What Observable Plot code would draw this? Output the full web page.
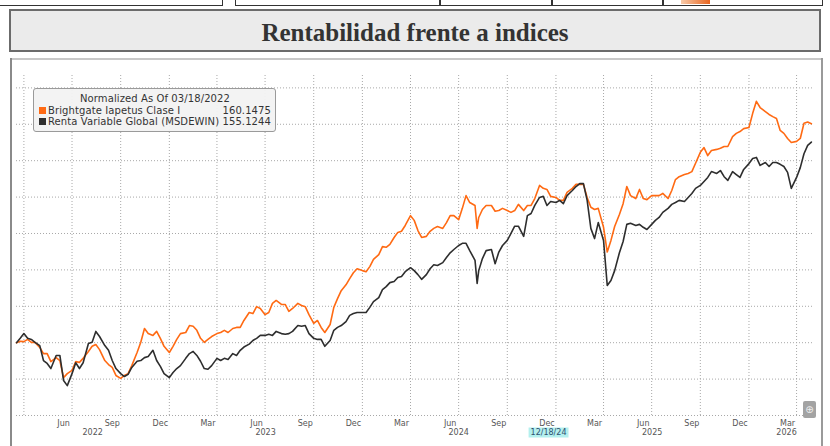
<!DOCTYPE html>
<html><head><meta charset="utf-8">
<script src="https://cdn.jsdelivr.net/npm/d3@7"></script>
<script src="https://cdn.jsdelivr.net/npm/@observablehq/plot@0.6"></script>
<style>
html,body{margin:0;padding:0;background:#fff;width:830px;height:446px;overflow:hidden;}
body{position:relative;}
.abs{position:absolute;box-sizing:border-box;}
#topL{left:-5px;top:-10px;width:228px;height:16px;border:1.5px solid #333;}
#topR{left:235px;top:-10px;width:588px;height:16px;border:1.5px solid #333;}
.vd{top:-10px;height:16px;width:1.5px;background:#333;}
#orangeBit{left:681px;top:0;width:29px;height:4px;background:linear-gradient(90deg,#f7c9a8,#e8651f);}
#titleBox{left:9px;top:9px;width:812px;height:43px;border:2px solid #6b6b6b;background:#ebebeb;
  display:flex;align-items:center;justify-content:center;font-family:"Liberation Serif",serif;font-weight:bold;font-size:25px;color:#333;padding-top:4px;}
#frameTop{left:11px;top:58px;width:812px;height:2px;background:#c8c8c8;}
#frameLeft{left:10px;top:58px;width:2px;height:400px;background:#8a8a8a;}
#frameRight{left:821px;top:58px;width:2px;height:400px;background:#9a9a9a;}
#chart{position:absolute;left:0;top:0;}
#legend{left:33px;top:88px;width:243px;height:44px;border:1px solid #9a9a9a;border-radius:3px;background:rgba(242,242,242,0.95);
  font-family:"DejaVu Sans",Verdana,sans-serif;font-size:10px;color:#333;padding:4px 4px 0 5px;line-height:11.6px;letter-spacing:0.1px;}
#legend .lt{text-align:center;}
#legend .row{display:flex;align-items:center;}
#legend .sw{width:7px;height:7px;margin-right:2px;flex:none;}
#legend .nm{flex:1;white-space:nowrap;}
#legend .val{white-space:nowrap;}
#btn{left:803px;top:401px;width:13px;height:17px;background:#a3a3a3;border-radius:2px;color:#eee;font:10px "DejaVu Sans";text-align:center;line-height:17px;}
</style></head><body>
<div class="abs" id="topL"></div>
<div class="abs" id="topR"></div>
<div class="abs vd" style="left:439px"></div>
<div class="abs vd" style="left:551px"></div>
<div class="abs vd" style="left:662px"></div>
<div class="abs" id="orangeBit"></div>
<div class="abs" id="titleBox">Rentabilidad frente a indices</div>
<div class="abs" id="frameTop"></div>
<div class="abs" id="frameLeft"></div>
<div class="abs" id="frameRight"></div>
<div id="chart"></div>
<div class="abs" id="legend"></div>
<div class="abs" id="btn">&#8853;</div>
<script>
const legendTitle = "Normalized As Of 03/18/2022";
const seriesNames = ["Brightgate Iapetus Clase I", "Renta Variable Global (MSDEWIN)"];
const lastValues = ["160.1475", "155.1244"];
const seriesColors = ["#ff6a13", "#2e2e2e"];

const dates = [
"2022-03-18","2022-03-25",
"2022-04-01","2022-04-08","2022-04-15","2022-04-22",
"2022-05-01","2022-05-08","2022-05-15","2022-05-22",
"2022-06-01","2022-06-08","2022-06-15","2022-06-22",
"2022-07-01","2022-07-08","2022-07-15","2022-07-22",
"2022-08-01","2022-08-08","2022-08-15","2022-08-22",
"2022-09-01","2022-09-08","2022-09-15","2022-09-22",
"2022-10-01","2022-10-08","2022-10-15","2022-10-22",
"2022-11-01","2022-11-08","2022-11-15","2022-11-22",
"2022-12-01","2022-12-08","2022-12-15","2022-12-22",
"2023-01-01","2023-01-08","2023-01-15","2023-01-22",
"2023-02-01","2023-02-08","2023-02-15","2023-02-22",
"2023-03-01","2023-03-08","2023-03-15","2023-03-22",
"2023-04-01","2023-04-08","2023-04-15","2023-04-22",
"2023-05-01","2023-05-08","2023-05-15","2023-05-22",
"2023-06-01","2023-06-08","2023-06-15","2023-06-22",
"2023-07-01","2023-07-08","2023-07-15","2023-07-22",
"2023-08-01","2023-08-08","2023-08-15","2023-08-22",
"2023-09-01","2023-09-08","2023-09-15","2023-09-22",
"2023-10-01","2023-10-08","2023-10-15","2023-10-22",
"2023-11-01","2023-11-08","2023-11-15","2023-11-22",
"2023-12-01","2023-12-08","2023-12-15","2023-12-22",
"2024-01-01","2024-01-08","2024-01-15","2024-01-22",
"2024-02-01","2024-02-08","2024-02-15","2024-02-22",
"2024-03-01","2024-03-08","2024-03-15","2024-03-22",
"2024-04-01","2024-04-08","2024-04-15","2024-04-22",
"2024-05-01","2024-05-08","2024-05-15","2024-05-22",
"2024-06-01","2024-06-08","2024-06-15","2024-06-22",
"2024-07-01","2024-07-08","2024-07-15","2024-07-22",
"2024-08-01","2024-08-05","2024-08-08","2024-08-15","2024-08-22",
"2024-09-01","2024-09-08","2024-09-15","2024-09-22",
"2024-10-01","2024-10-08","2024-10-15","2024-10-22",
"2024-11-01","2024-11-08","2024-11-15","2024-11-22",
"2024-12-01","2024-12-08","2024-12-15","2024-12-22",
"2025-01-01","2025-01-08","2025-01-15","2025-01-22",
"2025-02-01","2025-02-08","2025-02-15","2025-02-22",
"2025-03-01","2025-03-08","2025-03-15","2025-03-22",
"2025-04-01","2025-04-08","2025-04-15","2025-04-22",
"2025-05-01","2025-05-08","2025-05-15","2025-05-22",
"2025-06-01","2025-06-08","2025-06-15","2025-06-22",
"2025-07-01","2025-07-08","2025-07-15","2025-07-22",
"2025-08-01","2025-08-08","2025-08-15","2025-08-22",
"2025-09-01","2025-09-08","2025-09-15","2025-09-22",
"2025-10-01","2025-10-08","2025-10-15","2025-10-22",
"2025-11-01","2025-11-08","2025-11-15","2025-11-22",
"2025-12-01","2025-12-08","2025-12-15","2025-12-22",
"2026-01-01","2026-01-08","2026-01-15","2026-01-22",
"2026-02-01","2026-02-08","2026-02-15","2026-02-22",
"2026-03-01","2026-03-08","2026-03-15","2026-03-22",
"2026-04-01","2026-04-08","2026-04-15","2026-04-22","2026-04-29"
];

const fundValues = [
100.0,100.4,
100.3,100.9,100.1,100.1,
98.7,97.0,97.0,94.8,
95.9,95.1,90.4,91.5,
92.4,94.8,94.6,95.7,
97.6,99.0,99.5,98.1,
95.1,94.0,93.2,91.0,
90.2,91.0,91.5,93.7,
97.3,100.1,103.9,102.5,
102.0,103.1,101.2,99.0,
97.3,99.0,100.9,102.5,
102.8,104.7,104.5,103.4,
101.2,100.1,100.9,101.7,
102.5,102.8,103.4,102.8,
103.9,104.2,104.2,106.1,
108.3,108.0,109.9,109.4,
107.7,108.3,110.8,111.6,
110.5,110.5,108.6,109.4,
110.8,110.2,109.9,107.7,
105.3,106.1,104.2,102.8,
105.0,109.7,112.1,114.3,
115.9,117.6,119.2,120.3,
119.8,119.5,120.9,122.9,
124.2,126.4,126.2,127.0,
128.9,130.3,130.6,132.2,
134.9,133.6,130.8,128.9,
129.2,130.6,131.4,131.9,
131.4,133.0,134.9,134.9,
133.8,136.9,140.4,138.5,
137.7,131.4,134.4,136.6,137.7,
137.7,136.1,136.3,136.9,
136.3,135.8,136.3,138.0,
136.3,137.7,137.7,139.6,
143.2,142.4,142.1,140.2,
139.9,139.1,139.1,141.3,
142.4,143.5,143.5,143.5,
139.9,137.2,136.6,136.9,
131.7,124.9,128.1,131.9,
135.2,138.2,142.9,140.4,
139.6,142.1,139.6,139.3,
140.4,140.4,140.4,141.0,
139.6,141.8,144.8,145.6,
146.2,146.5,147.0,149.3,
152.3,153.6,151.4,152.8,
153.1,153.4,153.9,153.9,
156.6,157.5,158.0,158.8,
159.1,163.0,166.3,164.6,
163.5,162.7,162.1,161.6,
158.3,157.5,156.1,155.0,
155.3,156.1,160.3,160.6,160.15
];

const indexValues = [
100.0,101.2,
102.5,101.2,100.9,100.1,
99.2,95.1,94.3,92.9,
96.5,96.5,89.6,88.2,
91.5,94.5,92.9,94.5,
99.8,100.1,103.1,101.7,
99.2,97.9,95.1,92.9,
91.5,90.7,91.3,93.2,
94.9,95.1,95.9,96.2,
97.9,95.1,93.5,91.5,
90.4,91.8,92.9,93.7,
95.7,97.0,97.6,96.5,
94.9,92.9,92.7,93.7,
95.7,95.1,95.7,95.4,
97.0,96.5,97.9,98.8,
99.6,100.6,101.2,102.0,
102.0,102.3,102.0,103.1,
102.5,102.3,102.5,103.1,
104.7,104.5,104.7,102.5,
101.2,100.9,100.9,99.0,
100.6,103.4,104.2,104.7,
105.8,107.5,108.0,108.3,
108.3,108.3,109.7,111.3,
112.4,114.6,115.4,116.5,
116.8,117.9,118.2,119.5,
120.6,119.8,118.7,117.4,
118.7,120.3,121.4,121.2,
122.0,123.4,124.7,125.6,
126.7,127.3,127.3,125.3,
122.6,116.3,119.8,123.1,125.3,
125.6,121.7,124.9,126.7,
128.1,130.0,132.0,132.0,
129.2,134.9,135.5,137.7,
139.9,140.2,137.7,138.8,
138.5,139.1,138.2,140.4,
141.8,142.9,143.7,143.7,
139.1,131.4,128.6,133.0,
128.1,115.7,117.1,119.8,
124.7,127.8,132.5,132.8,
132.2,132.5,131.7,131.1,
132.5,133.6,134.4,135.8,
136.9,138.0,138.5,139.1,
138.8,139.9,141.0,142.4,
143.2,144.3,145.4,147.0,
146.5,147.3,145.6,144.6,
147.0,146.2,145.4,147.6,
149.2,150.6,150.9,148.7,
149.5,148.4,149.5,149.5,
149.0,148.4,146.8,142.4,
145.4,148.1,151.9,154.2,155.12
];

const gridDates = ["2022-04-01","2022-07-01","2022-10-01","2023-01-01","2023-04-01","2023-07-01","2023-10-01",
"2024-01-01","2024-04-01","2024-07-01","2024-10-01","2025-01-01","2025-04-01","2025-07-01","2025-10-01","2026-01-01","2026-04-01"];
const yGridValues = [90,100,110,120,130,140,150,160,170];
const monthTickDates = ["2022-06-15","2022-09-15","2022-12-15","2023-03-15","2023-06-15","2023-09-15","2023-12-15",
"2024-03-15","2024-06-15","2024-09-15","2024-12-15","2025-03-15","2025-06-15","2025-09-15","2025-12-15","2026-03-15"];
const monthTickLabels = ["Jun","Sep","Dec","Mar","Jun","Sep","Dec","Mar","Jun","Sep","Dec","Mar","Jun","Sep","Dec","Mar"];
const yearTickDates = ["2022-08-09","2023-07-02","2024-07-01","2025-07-02","2026-03-13"];
const yearTickLabels = ["2022","2023","2024","2025","2026"];
const markerDate = "2024-12-18";
const markerLabel = "12/18/24";

const P = s => new Date(s);
const fundRows = dates.map((d, i) => ({date: P(d), value: fundValues[i]}));
const indexRows = dates.map((d, i) => ({date: P(d), value: indexValues[i]}));
const monthTicks = monthTickDates.map((d, i) => ({date: P(d), label: monthTickLabels[i]}));
const yearTicks = yearTickDates.map((d, i) => ({date: P(d), label: yearTickLabels[i]}));

const gridStyle = {stroke: "#a8a8a8", strokeOpacity: 1, strokeWidth: 1, strokeDasharray: "1,2"};

const chart = Plot.plot({
  width: 830, height: 446,
  marginLeft: 16, marginRight: 17, marginTop: 75, marginBottom: 31,
  style: {fontFamily: "DejaVu Sans, Verdana, sans-serif", fontSize: "8px", background: "transparent", overflow: "visible"},
  x: {type: "utc", domain: [P("2022-03-18"), P("2026-05-03")], axis: null},
  y: {domain: [80, 173.4], axis: null},
  marks: [
    Plot.gridX(gridDates.map(P), gridStyle),
    Plot.gridY(yGridValues, gridStyle),
    Plot.ruleY([80], gridStyle),
    Plot.line(fundRows, {x: "date", y: "value", stroke: seriesColors[0], strokeWidth: 1.6}),
    Plot.line(indexRows, {x: "date", y: "value", stroke: seriesColors[1], strokeWidth: 1.6}),
    Plot.text(monthTicks, {x: "date", text: "label", frameAnchor: "bottom", dy: 10.5, fill: "#555"}),
    Plot.text(yearTicks, {x: "date", text: "label", frameAnchor: "bottom", dy: 19.5, fill: "#555"}),
    Plot.text([{date: P(markerDate), label: markerLabel}], {x: "date", text: "label", frameAnchor: "bottom", dy: 19.5, fill: "#2d4f6e", className: "marker-label"})
  ]
});
document.getElementById("chart").appendChild(chart);

// highlight box behind the marker label
const mk = chart.querySelector(".marker-label text");
if (mk) {
  const b = mk.getBBox();
  const r = document.createElementNS("http://www.w3.org/2000/svg", "rect");
  r.setAttribute("x", b.x - 2); r.setAttribute("y", b.y - 0.5);
  r.setAttribute("width", b.width + 4); r.setAttribute("height", b.height + 1);
  r.setAttribute("fill", "#b4f0ee");
  const tr = mk.getAttribute("transform");
  if (tr) r.setAttribute("transform", tr);
  mk.parentNode.insertBefore(r, mk);
}

// legend
const lg = document.getElementById("legend");
const t = document.createElement("div"); t.className = "lt"; t.textContent = legendTitle; lg.appendChild(t);
seriesNames.forEach((n, i) => {
  const row = document.createElement("div"); row.className = "row";
  const sw = document.createElement("span"); sw.className = "sw"; sw.style.background = seriesColors[i];
  const nm = document.createElement("span"); nm.className = "nm"; nm.textContent = n;
  const v = document.createElement("span"); v.className = "val"; v.textContent = lastValues[i];
  row.append(sw, nm, v); lg.appendChild(row);
});
</script>
</body></html>
